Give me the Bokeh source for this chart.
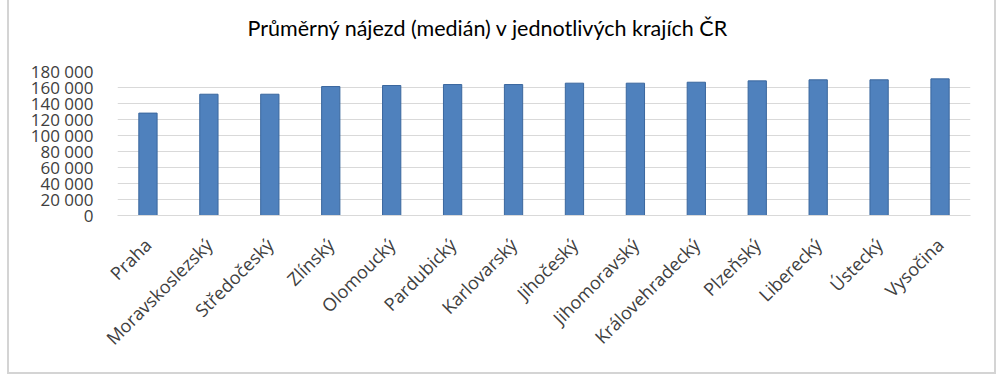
from bokeh.plotting import figure
from bokeh.models import FixedTicker, ColumnDataSource, Title
from bokeh.embed import file_html
from bokeh.resources import INLINE
import math

regions = ["Praha", "Moravskoslezský", "Středočeský", "Zlínský", "Olomoucký",
           "Pardubický", "Karlovarský", "Jihočeský", "Jihomoravský",
           "Královehradecký", "Plzeňský", "Liberecký", "Ústecký", "Vysočina"]
median_km = [128000, 151600, 151600, 161200, 162500, 163700, 163700, 165400,
             165400, 166600, 168300, 169600, 169600, 170800]
y_ticks = [0, 20000, 40000, 60000, 80000, 100000, 120000, 140000, 160000, 180000]
y_tick_labels = ["0", "20 000", "40 000", "60 000", "80 000", "100 000",
                 "120 000", "140 000", "160 000", "180 000"]
title_text = "Průměrný nájezd (medián) v jednotlivých krajích ČR"

src = ColumnDataSource(dict(x=regions, top=median_km))

p = figure(x_range=regions, y_range=(0, 180000),
           frame_width=853, frame_height=144,
           output_backend="svg", toolbar_location=None,
           min_border_left=108, min_border_right=24, min_border_top=71,
           min_border_bottom=157,
           styles={"margin-left": "7px", "border-left": "2px solid #d4d4d4",
                   "border-right": "2px solid #d4d4d4",
                   "border-bottom": "2px solid #d4d4d4"})
p.title = None

# empty spacer between the frame and the title
spacer = Title(text=" ", text_font_size="2px", standoff=24)
p.add_layout(spacer, "above")

main_title = Title(text=title_text, text_font="Lato", text_font_size="21.5px",
                   text_font_style="normal", text_color="#000000",
                   align="left", offset=130, standoff=6)
p.add_layout(main_title, "above")

p.vbar(x="x", top="top", width=0.3, source=src, fill_color="#4F81BD",
       line_color="#3A679E", line_width=1)

p.outline_line_color = None
p.xgrid.grid_line_color = None
p.ygrid.grid_line_color = "#D9D9D9"
p.ygrid.grid_line_width = 1

p.yaxis.ticker = FixedTicker(ticks=y_ticks)
p.yaxis.major_label_overrides = {t: l for t, l in zip(y_ticks, y_tick_labels)}
p.yaxis.axis_line_color = None
p.yaxis.major_tick_line_color = None
p.yaxis.minor_tick_line_color = None
p.yaxis.major_label_standoff = 18
p.yaxis.major_label_text_font = "Open Sans"
p.yaxis.major_label_text_font_size = "17px"
p.yaxis.major_label_text_color = "#404040"

p.xaxis.axis_line_color = "#D9D9D9"
p.xaxis.major_tick_line_color = None
p.xaxis.minor_tick_line_color = None
p.xaxis.major_label_orientation = math.pi / 4
p.xaxis.major_label_standoff = 20
p.xaxis.major_label_text_font = "Open Sans"
p.xaxis.major_label_text_font_size = "18px"
p.xaxis.major_label_text_color = "#404040"

p.x_range.range_padding = 0.0

open("out.html", "w").write(file_html(p, INLINE))
